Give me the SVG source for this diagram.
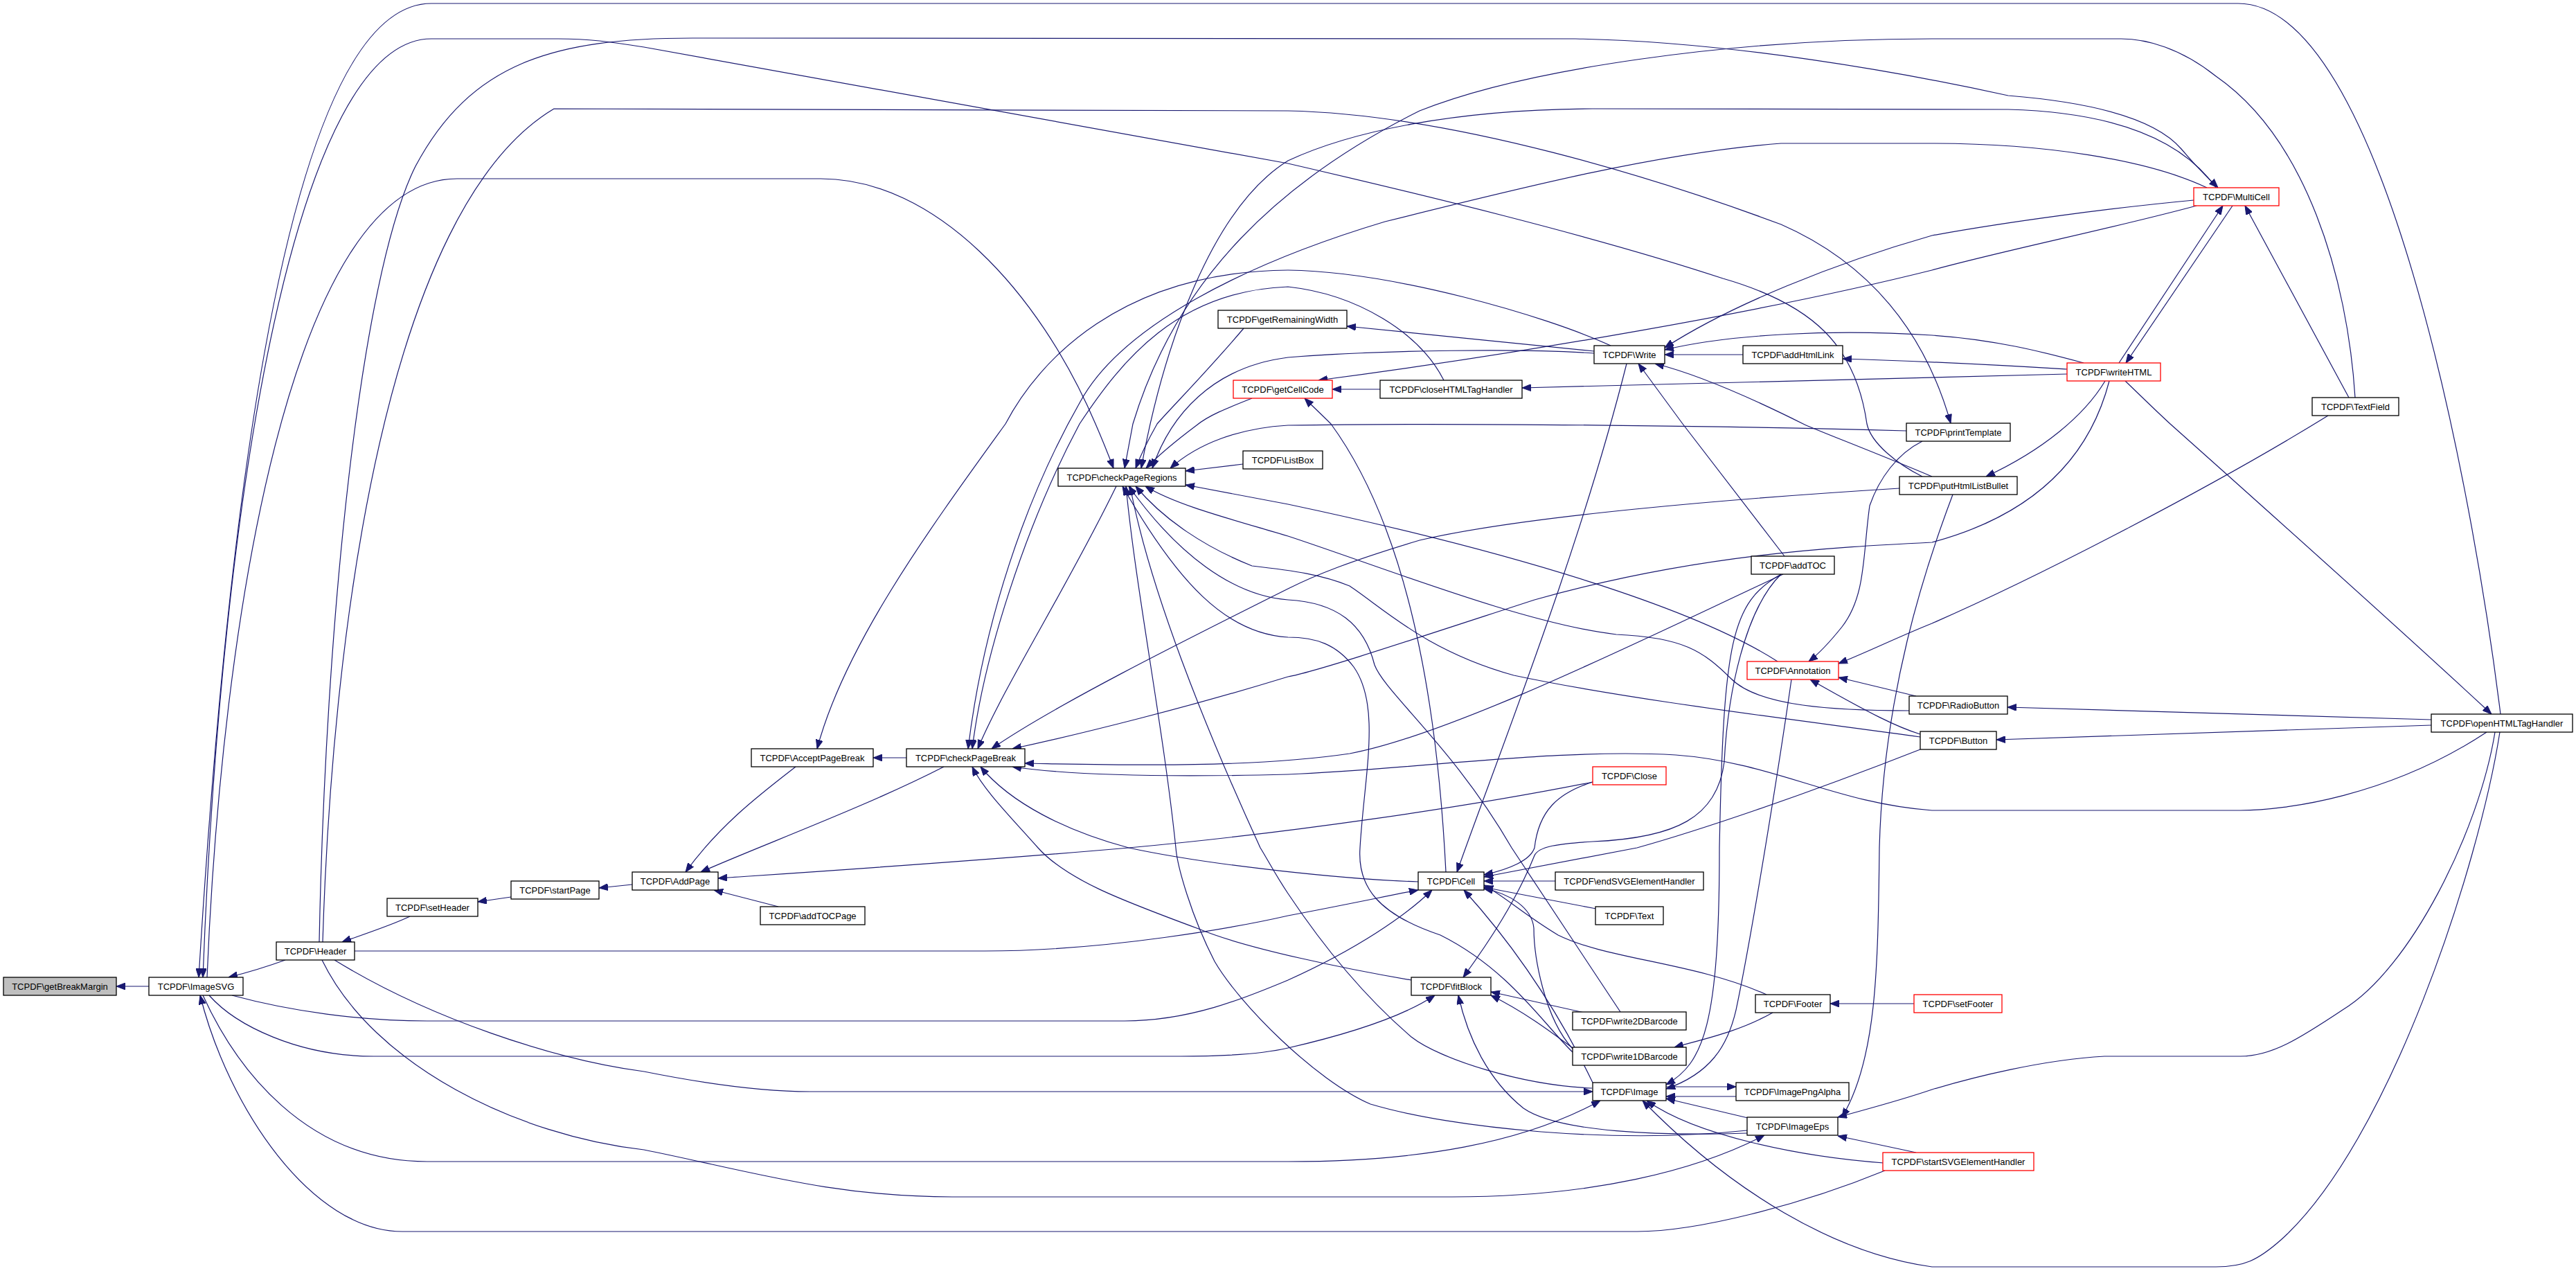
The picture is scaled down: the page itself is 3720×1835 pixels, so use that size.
<svg xmlns="http://www.w3.org/2000/svg" width="3720" height="1835" viewBox="0 0 3720 1835">
<style>
.n rect{fill:#ffffff;stroke:#000000;stroke-width:1.3}
.n.r rect{stroke:#ff0000}
.n.g rect{fill:#bfbfbf}
.n text{font-family:"Liberation Sans",Arial,Helvetica,sans-serif;font-size:13px;text-anchor:middle;fill:#000000}
#edges path{fill:none;stroke:#191970;stroke-width:1.2;marker-end:url(#ah)}
</style>
<defs>
<marker id="ah" markerWidth="13" markerHeight="10" refX="13" refY="5" orient="auto" markerUnits="userSpaceOnUse"><path d="M0,0 L13,5 L0,10 Z" fill="#191970" stroke="#191970" stroke-width="1"/></marker>
</defs>
<rect x="0" y="0" width="3720" height="1835" fill="#ffffff"/>
<g id="edges">
<path d="M215,1424 L168,1424"/>
<path d="M412,1386 C390,1394 358,1404 330,1411"/>
<path d="M592,1323 C565,1336 522,1350 494,1360"/>
<path d="M738,1295 L690,1302"/>
<path d="M913,1277 L865,1282"/>
<path d="M1149,1107 C1100,1145 1040,1190 990,1259"/>
<path d="M1363,1107 C1250,1165 1100,1220 1012,1259"/>
<path d="M1124,1309 L1031,1285"/>
<path d="M2300,1129 C2120,1165 1860,1203 1630,1224 C1400,1244 1200,1257 1037,1268"/>
<path d="M1309,1094 L1261,1094"/>
<path d="M2326,499 C2230,455 2010,392 1860,390 C1620,392 1500,520 1452,612 C1345,760 1220,930 1180,1081"/>
<path d="M1612,702 C1540,850 1450,990 1412,1081"/>
<path d="M1795,670 L1712,680"/>
<path d="M1796,474 C1740,540 1690,590 1671,612 C1658,635 1648,655 1640,676"/>
<path d="M1808,575 C1770,590 1745,600 1728,614 C1700,635 1675,655 1655,676"/>
<path d="M1993,562 L1924,562"/>
<path d="M2088,1259 C2075,1000 2030,760 1922,612 C1906,596 1895,586 1884,575"/>
<path d="M2302,507 L1945,471"/>
<path d="M2302,510 C2200,503 2000,505 1860,516 C1750,530 1690,600 1664,676"/>
<path d="M3611,1031 C3570,700 3440,5 3232,5 L623,5 C420,5 330,700 287,1411"/>
<path d="M461,1360 C470,900 520,400 600,240 C680,90 800,55 1000,55 L2275,56 C2500,60 2750,105 2900,138 C3050,150 3120,180 3150,215 C3175,245 3190,258 3203,271"/>
<path d="M2776,688 C2740,670 2702,640 2696,612 C2680,500 2620,440 2488,402 C2300,340 2050,280 1860,236 L930,68 C880,60 850,56 806,56 L623,56 C430,56 320,700 293,1411"/>
<path d="M466,1360 C480,900 560,300 800,157 L1860,160 C2100,165 2400,260 2572,324 C2700,380 2780,480 2817,611"/>
<path d="M299,1411 C320,900 420,258 660,258 L1185,258 C1350,258 1500,420 1582,612 C1592,635 1600,655 1608,676"/>
<path d="M512,1373 L1422,1373 C1600,1373 1790,1338 1860,1322 C1950,1305 2010,1292 2048,1285"/>
<path d="M335,1437 C420,1460 520,1474 617,1474 L1624,1474 C1720,1474 1800,1440 1860,1415 C1960,1370 2030,1322 2068,1285"/>
<path d="M302,1437 C340,1480 430,1525 540,1525 L1705,1525 C1780,1525 1830,1520 1860,1513 C1960,1490 2030,1465 2072,1437"/>
<path d="M483,1386 C620,1470 800,1530 930,1547 C1020,1565 1100,1576 1170,1576 L2300,1576"/>
<path d="M293,1437 C340,1540 440,1677 617,1677 L1860,1677 C2050,1677 2200,1650 2311,1589"/>
<path d="M465,1386 C540,1540 750,1640 930,1660 C1080,1690 1200,1728 1375,1728 L2097,1728 C2300,1728 2450,1690 2548,1639"/>
<path d="M2722,1690 C2600,1740 2450,1778 2364,1778 L581,1778 C450,1778 330,1600 289,1437"/>
<path d="M2349,525 C2280,800 2160,1100 2104,1259"/>
<path d="M2048,1273 C1950,1270 1750,1250 1630,1224 C1540,1200 1460,1160 1416,1107"/>
<path d="M2246,1272 L2143,1272"/>
<path d="M2305,1312 L2143,1281"/>
<path d="M2300,1129 C2250,1145 2222,1170 2216,1224 C2210,1242 2180,1255 2143,1263"/>
<path d="M2773,1082 C2600,1150 2450,1200 2364,1224 L2143,1266"/>
<path d="M2551,1436 C2450,1390 2320,1385 2250,1350 C2200,1320 2170,1292 2143,1278"/>
<path d="M2271,1514 C2230,1470 2215,1380 2215,1340 C2212,1310 2180,1290 2143,1283"/>
<path d="M2300,1563 C2260,1480 2200,1380 2114,1285"/>
<path d="M2340,1461 L2183,1224 C2100,1080 2000,1000 1985,960 C1970,900 1930,870 1860,866 C1780,860 1700,800 1630,702"/>
<path d="M2271,1519 C2230,1480 2180,1400 2080,1350 C1990,1320 1960,1280 1964,1224 C1970,1120 1995,1020 1955,963 C1930,930 1900,920 1860,920 C1770,915 1700,840 1621,702"/>
<path d="M2567,955 C2450,880 2200,800 1860,728 L1712,700"/>
<path d="M2757,1026 C2650,1026 2540,1020 2500,980 C2460,940 2430,920 2334,916 C2200,900 2000,820 1860,774 C1780,750 1700,730 1654,702"/>
<path d="M2773,1064 C2600,1040 2350,1010 2186,975 C2060,940 2000,880 1949,846 C1910,830 1870,824 1808,817 C1740,790 1680,750 1640,702"/>
<path d="M2753,622 C2500,615 2100,610 1860,614 C1790,618 1730,640 1690,676"/>
<path d="M3401,574 C3390,400 3330,200 3200,110 C3150,70 3100,56 3063,56 L2790,56 C2500,56 2200,100 2050,160 C1850,260 1700,400 1636,612 L1624,676"/>
<path d="M2575,829 C2400,910 2100,1060 1949,1088 C1800,1110 1600,1104 1480,1102"/>
<path d="M3591,1057 C3450,1150 3300,1170 3235,1170 L2790,1170 C2650,1160 2560,1100 2420,1090 C2250,1080 2050,1110 1860,1118 C1700,1122 1550,1120 1462,1107"/>
<path d="M3046,550 C3020,650 2950,740 2790,783 C2650,790 2450,800 2216,866 C2050,920 1900,970 1860,977 C1720,1020 1560,1060 1462,1081"/>
<path d="M2743,705 C2500,720 2200,745 2050,780 C1950,810 1900,830 1860,850 C1700,930 1520,1020 1432,1081"/>
<path d="M3187,271 C3100,230 2950,207 2790,207 L2572,207 C2400,220 2200,270 2000,320 C1800,380 1620,470 1560,580 C1480,720 1420,900 1398,1081"/>
<path d="M2085,549 C2050,480 1960,425 1860,414 C1700,420 1620,520 1559,612 C1480,760 1420,950 1404,1081"/>
<path d="M2038,1415 C1950,1400 1800,1370 1731,1341 C1620,1300 1540,1270 1499,1224 C1460,1180 1420,1140 1404,1107"/>
<path d="M3168,289 C3050,300 2900,320 2790,340 C2650,380 2500,440 2404,502"/>
<path d="M3172,297 C3050,330 2900,360 2790,390 C2550,450 2200,510 1904,549"/>
<path d="M3060,524 L3210,297"/>
<path d="M3224,297 L3070,524"/>
<path d="M3392,574 L3242,297"/>
<path d="M3009,524 C2950,508 2880,490 2790,484 C2650,475 2500,482 2404,505"/>
<path d="M2517,512 L2404,512"/>
<path d="M2985,533 C2900,528 2800,522 2661,518"/>
<path d="M2985,540 C2800,543 2500,552 2198,560"/>
<path d="M3040,550 C3010,600 2950,650 2868,688"/>
<path d="M3069,550 C3090,570 3110,590 3134,612 C3300,760 3500,940 3598,1031"/>
<path d="M3511,1039 L2899,1021"/>
<path d="M3511,1047 L2883,1068"/>
<path d="M3610,1057 C3580,1250 3450,1650 3294,1790 C3260,1820 3240,1829 3200,1829 L2790,1829 C2650,1810 2500,1720 2372,1589"/>
<path d="M3603,1057 C3580,1200 3480,1400 3383,1458 C3320,1500 3280,1525 3235,1525 L3039,1525 C2950,1530 2850,1555 2790,1573 C2740,1590 2700,1600 2654,1613"/>
<path d="M3362,600 C3200,700 2950,830 2790,900 C2740,920 2700,940 2655,958"/>
<path d="M2767,1005 L2655,978"/>
<path d="M2773,1060 C2740,1050 2700,1030 2614,981"/>
<path d="M2776,637 C2740,655 2714,690 2700,730 C2690,800 2695,860 2660,905 C2640,930 2625,945 2612,955"/>
<path d="M2790,688 C2700,650 2620,620 2604,612 C2520,570 2450,540 2390,525"/>
<path d="M2820,714 C2780,820 2720,1000 2714,1224 C2712,1400 2710,1530 2660,1613"/>
<path d="M2587,981 C2570,1100 2530,1350 2507,1458 C2495,1510 2470,1550 2406,1572"/>
<path d="M2577,803 L2430,612 L2366,525"/>
<path d="M2572,829 C2500,870 2489,924 2483,1224 C2483,1480 2460,1535 2406,1566"/>
<path d="M2406,1569 L2507,1569"/>
<path d="M2507,1583 L2406,1583"/>
<path d="M2524,1614 L2406,1586"/>
<path d="M2523,1636 C2400,1640 2250,1635 2200,1600 C2150,1560 2120,1500 2106,1437"/>
<path d="M2288,1462 L2153,1432"/>
<path d="M2271,1513 C2240,1490 2200,1460 2153,1437"/>
<path d="M2572,829 C2520,880 2495,1000 2490,1100 C2480,1180 2420,1210 2300,1215 C2250,1218 2222,1222 2216,1235 C2190,1300 2150,1360 2113,1411"/>
<path d="M2720,1679 C2600,1670 2450,1640 2378,1589"/>
<path d="M2767,1664 L2654,1640"/>
<path d="M2764,1449 L2643,1449"/>
<path d="M2560,1462 C2510,1490 2460,1500 2418,1512"/>
<path d="M2523,1632 C2334,1652 2100,1630 1979,1594 C1900,1560 1790,1450 1754,1388 C1720,1322 1700,1250 1698,1224 C1680,1050 1640,850 1626,702"/>
<path d="M2299,1571 C2200,1567 2080,1530 2038,1497 C1960,1430 1900,1350 1860,1290 C1840,1260 1830,1240 1820,1224 C1740,1050 1660,850 1632,702"/>
<path d="M3200,271 C3150,200 3050,162 2900,158 L2300,157 C2100,158 1950,190 1860,232 C1750,300 1680,500 1648,676"/>
</g>
<g id="n_getBreakMargin" class="n g"><rect x="5" y="1411" width="163" height="26"/><text x="86.5" y="1428.5">TCPDF\getBreakMargin</text></g>
<g id="n_ImageSVG" class="n"><rect x="215" y="1411" width="136" height="26"/><text x="283" y="1428.5">TCPDF\ImageSVG</text></g>
<g id="n_Header" class="n"><rect x="399" y="1360" width="113" height="26"/><text x="455.5" y="1377.5">TCPDF\Header</text></g>
<g id="n_setHeader" class="n"><rect x="559" y="1297" width="131" height="26"/><text x="624.5" y="1314.5">TCPDF\setHeader</text></g>
<g id="n_startPage" class="n"><rect x="738" y="1272" width="127" height="26"/><text x="801.5" y="1289.5">TCPDF\startPage</text></g>
<g id="n_AddPage" class="n"><rect x="913" y="1259" width="124" height="26"/><text x="975" y="1276.5">TCPDF\AddPage</text></g>
<g id="n_addTOCPage" class="n"><rect x="1098" y="1309" width="151" height="26"/><text x="1173.5" y="1326.5">TCPDF\addTOCPage</text></g>
<g id="n_AcceptPageBreak" class="n"><rect x="1085" y="1081" width="176" height="26"/><text x="1173" y="1098.5">TCPDF\AcceptPageBreak</text></g>
<g id="n_checkPageBreak" class="n"><rect x="1309" y="1081" width="171" height="26"/><text x="1394.5" y="1098.5">TCPDF\checkPageBreak</text></g>
<g id="n_checkPageRegions" class="n"><rect x="1528" y="676" width="184" height="26"/><text x="1620" y="693.5">TCPDF\checkPageRegions</text></g>
<g id="n_ListBox" class="n"><rect x="1795" y="651" width="115" height="26"/><text x="1852.5" y="668.5">TCPDF\ListBox</text></g>
<g id="n_getRemainingWidth" class="n"><rect x="1759" y="448" width="186" height="26"/><text x="1852" y="465.5">TCPDF\getRemainingWidth</text></g>
<g id="n_getCellCode" class="n r"><rect x="1781" y="549" width="143" height="26"/><text x="1852.5" y="566.5">TCPDF\getCellCode</text></g>
<g id="n_closeHTMLTagHandler" class="n"><rect x="1993" y="549" width="205" height="26"/><text x="2095.5" y="566.5">TCPDF\closeHTMLTagHandler</text></g>
<g id="n_Write" class="n"><rect x="2302" y="499" width="102" height="26"/><text x="2353" y="516.5">TCPDF\Write</text></g>
<g id="n_addHtmlLink" class="n"><rect x="2517" y="499" width="144" height="26"/><text x="2589" y="516.5">TCPDF\addHtmlLink</text></g>
<g id="n_MultiCell" class="n r"><rect x="3168" y="271" width="123" height="26"/><text x="3229.5" y="288.5">TCPDF\MultiCell</text></g>
<g id="n_writeHTML" class="n r"><rect x="2985" y="524" width="135" height="26"/><text x="3052.5" y="541.5">TCPDF\writeHTML</text></g>
<g id="n_TextField" class="n"><rect x="3339" y="574" width="125" height="26"/><text x="3401.5" y="591.5">TCPDF\TextField</text></g>
<g id="n_printTemplate" class="n"><rect x="2753" y="611" width="150" height="26"/><text x="2828" y="628.5">TCPDF\printTemplate</text></g>
<g id="n_putHtmlListBullet" class="n"><rect x="2743" y="688" width="170" height="26"/><text x="2828" y="705.5">TCPDF\putHtmlListBullet</text></g>
<g id="n_addTOC" class="n"><rect x="2529" y="803" width="120" height="26"/><text x="2589" y="820.5">TCPDF\addTOC</text></g>
<g id="n_Annotation" class="n r"><rect x="2523" y="955" width="132" height="26"/><text x="2589" y="972.5">TCPDF\Annotation</text></g>
<g id="n_RadioButton" class="n"><rect x="2757" y="1005" width="142" height="26"/><text x="2828" y="1022.5">TCPDF\RadioButton</text></g>
<g id="n_Button" class="n"><rect x="2773" y="1056" width="110" height="26"/><text x="2828" y="1073.5">TCPDF\Button</text></g>
<g id="n_Close" class="n r"><rect x="2300" y="1107" width="106" height="26"/><text x="2353" y="1124.5">TCPDF\Close</text></g>
<g id="n_openHTMLTagHandler" class="n"><rect x="3511" y="1031" width="204" height="26"/><text x="3613" y="1048.5">TCPDF\openHTMLTagHandler</text></g>
<g id="n_Cell" class="n"><rect x="2048" y="1259" width="95" height="26"/><text x="2095.5" y="1276.5">TCPDF\Cell</text></g>
<g id="n_endSVGElementHandler" class="n"><rect x="2246" y="1259" width="214" height="26"/><text x="2353" y="1276.5">TCPDF\endSVGElementHandler</text></g>
<g id="n_Text" class="n"><rect x="2304" y="1309" width="98" height="26"/><text x="2353" y="1326.5">TCPDF\Text</text></g>
<g id="n_fitBlock" class="n"><rect x="2038" y="1411" width="115" height="26"/><text x="2095.5" y="1428.5">TCPDF\fitBlock</text></g>
<g id="n_write2DBarcode" class="n"><rect x="2271" y="1461" width="164" height="26"/><text x="2353" y="1478.5">TCPDF\write2DBarcode</text></g>
<g id="n_write1DBarcode" class="n"><rect x="2271" y="1512" width="164" height="26"/><text x="2353" y="1529.5">TCPDF\write1DBarcode</text></g>
<g id="n_Footer" class="n"><rect x="2535" y="1436" width="108" height="26"/><text x="2589" y="1453.5">TCPDF\Footer</text></g>
<g id="n_Image" class="n"><rect x="2300" y="1563" width="106" height="26"/><text x="2353" y="1580.5">TCPDF\Image</text></g>
<g id="n_ImagePngAlpha" class="n"><rect x="2507" y="1563" width="163" height="26"/><text x="2588.5" y="1580.5">TCPDF\ImagePngAlpha</text></g>
<g id="n_ImageEps" class="n"><rect x="2523" y="1613" width="131" height="26"/><text x="2588.5" y="1630.5">TCPDF\ImageEps</text></g>
<g id="n_startSVGElementHandler" class="n r"><rect x="2719" y="1664" width="218" height="26"/><text x="2828" y="1681.5">TCPDF\startSVGElementHandler</text></g>
<g id="n_setFooter" class="n r"><rect x="2764" y="1436" width="127" height="26"/><text x="2827.5" y="1453.5">TCPDF\setFooter</text></g>
</svg>
